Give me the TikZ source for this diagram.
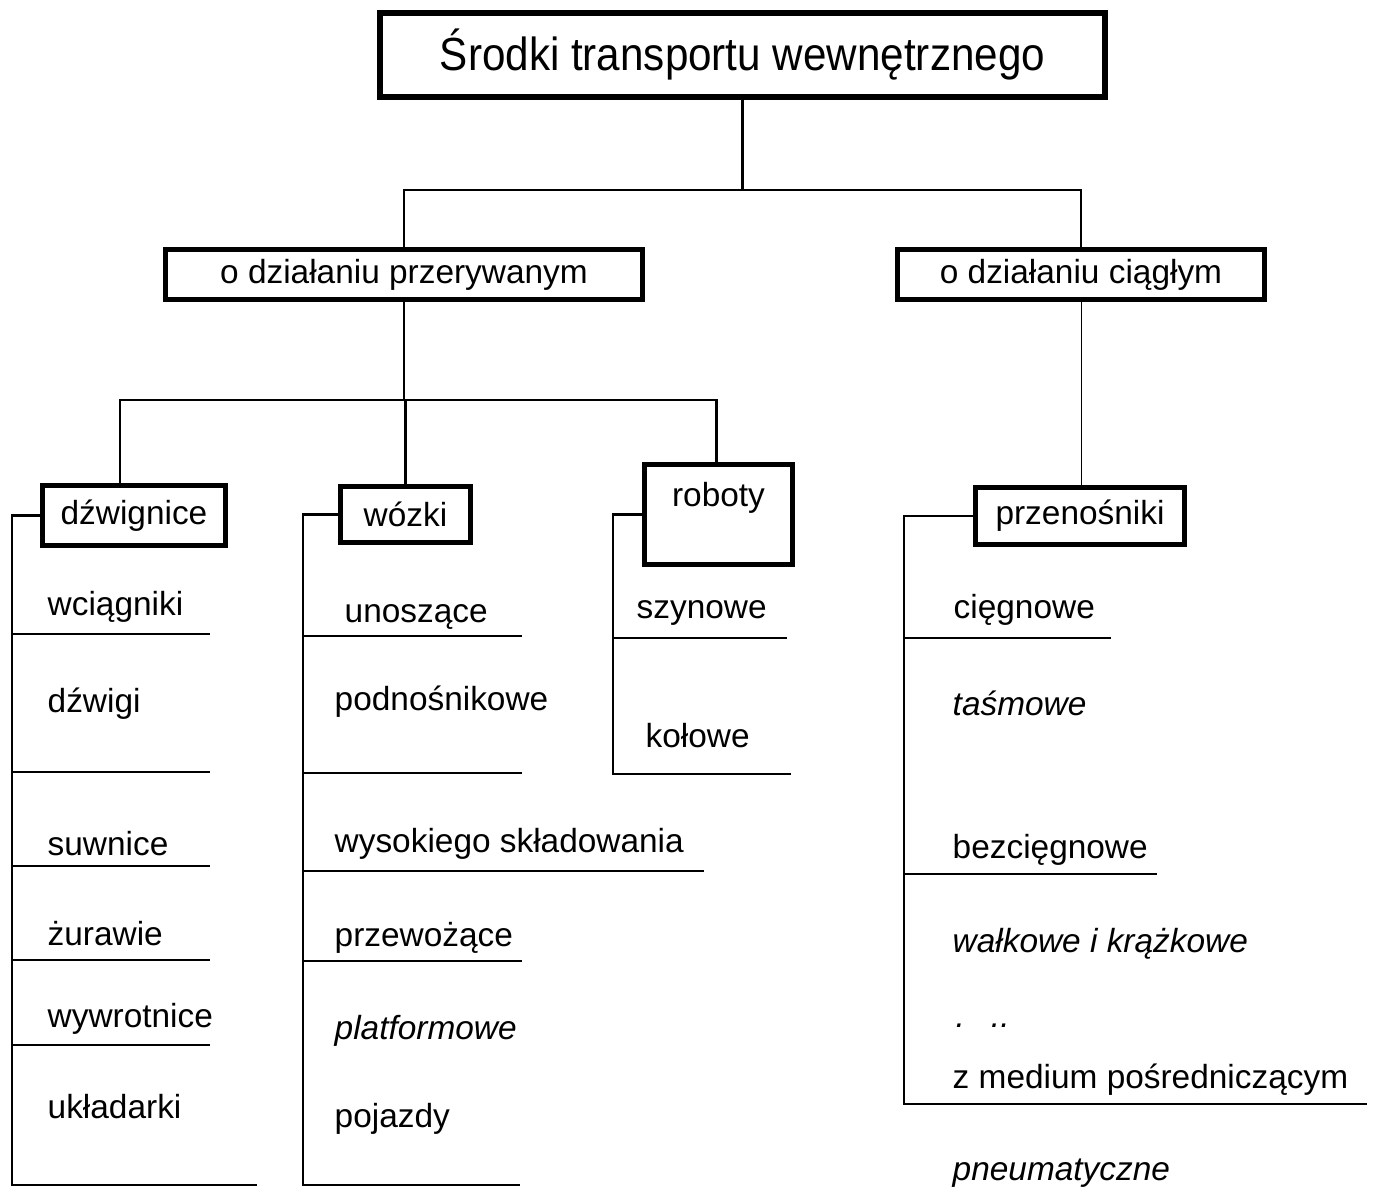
\documentclass[tikz,border=0pt]{standalone}
\usepackage{fontspec}
\setmainfont{Liberation Sans}
\usetikzlibrary{calc}
\begin{document}
\begin{tikzpicture}[x=0.01cm,y=-0.01cm,
  box/.style={draw,line width=0.05cm,inner sep=0pt,font=\fontsize{9.5pt}{11pt}\selectfont},
  topbox/.style={draw,line width=0.065cm,inner sep=0pt,font=\fontsize{12pt}{14pt}\selectfont},
  link/.style={line width=0.028cm},
  thinlink/.style={line width=0.01cm},
  item/.style={anchor=base west,inner sep=0pt,font=\fontsize{9.5pt}{11pt}\selectfont},
  itemit/.style={item,font=\fontsize{9.5pt}{11pt}\selectfont\itshape}]
\useasboundingbox (0,0) rectangle (1373,1191);

% main boxes
\node[topbox,minimum width=7.245cm,minimum height=0.835cm] (top) at (742.5,55)
  {\scalebox{1}[1.1]{Środki transportu wewnętrznego}};
\node[box,minimum width=4.77cm,minimum height=0.5cm] (przer) at (404,274.5) {o działaniu przerywanym};
\node[box,minimum width=3.67cm,minimum height=0.5cm] (cig) at (1081,274.5) {o działaniu ciągłym};

\node[box,minimum width=1.83cm,minimum height=0.6cm] (dzw) at (134,515.5) {dźwignice};
\node[box,minimum width=1.30cm,minimum height=0.56cm] (woz) at (405.5,514.5) {wózki};
\node[box,minimum width=1.48cm,minimum height=1.0cm,
  label={[anchor=north,inner sep=0pt,yshift=-0.2cm,font=\fontsize{9.5pt}{11pt}\selectfont]north:roboty}] (rob) at (718.5,514.5) {};
\node[box,minimum width=2.09cm,minimum height=0.57cm] (prz) at (1080,516) {przenośniki};

% tree connectors
\coordinate (j1) at (742,190);
\coordinate (j2) at (404,400);
\draw[link] (top.south) -- (top.south |- j1);
\draw[link] (przer.north) |- (j1) -| (cig.north);
\draw[link] (przer.south) -- (j2);
\draw[link] ($(dzw.north)+(-14,0)$) |- (j2) -| ($(rob.north)+(-2,0)$);
\draw[link] (woz.north) -- (woz.north |- j2);
\draw[thinlink] (cig.south) -- (cig.south |- prz.north);

% dźwignice list
\coordinate (dzwbot) at (12,1185);
\draw[link] (dzw.west) -| (dzwbot) -- ++(245,0);
\foreach \y in {634,772,866,960,1045} \draw[link] (12,\y) -- (210,\y);
\node[item] (d1) at (47,615) {wciągniki};
\node[item] (d2) at (47,712) {dźwigi};
\node[item] (d3) at (47,855) {suwnice};
\node[item] (d4) at (47,945) {żurawie};
\node[item] (d5) at (47,1027) {wywrotnice};
\node[item] (d6) at (47,1118) {układarki};

% wózki list
\coordinate (wozbot) at (303,1185);
\draw[link] (woz.west) -| (wozbot) -- ++(217,0);
\foreach \y in {636,773,961} \draw[link] (303,\y) -- (522,\y);
\draw[link] (303,871) -- (704,871);
\node[item] (w1) at (344,622) {unoszące};
\node[item] (w2) at (334,710) {podnośnikowe};
\node[item] (w3) at (334,852) {wysokiego składowania};
\node[item] (w4) at (334,946) {przewożące};
\node[itemit] (w5) at (334,1039) {platformowe};
\node[item] (w6) at (334,1127) {pojazdy};

% roboty list
\coordinate (robbot) at (613,774);
\draw[link] (rob.west) -| (robbot) -- ++(178,0);
\draw[link] (613,638) -- (787,638);
\node[item] (r1) at (636,618) {szynowe};
\node[item] (r2) at (645,747) {kołowe};

% przenośniki list
\coordinate (przbot) at (904,1104);
\draw[link] (prz.west) -| (przbot) -- ++(463,0);
\draw[link] (904,638) -- (1111,638);
\draw[link] (904,874) -- (1157,874);
\node[item] (p1) at (953,618) {cięgnowe};
\node[itemit] (p2) at (952,715) {taśmowe};
\node[item] (p3) at (952,858) {bezcięgnowe};
\node[itemit] (p4) at (952,952) {wałkowe i krążkowe};
\node[itemit] (p5) at (955,1027) {.\hspace{0.26cm}..};
\node[item] (p6) at (952,1088) {z medium pośredniczącym};
\node[itemit] (p7) at (952,1180) {pneumatyczne};
\end{tikzpicture}
\end{document}
